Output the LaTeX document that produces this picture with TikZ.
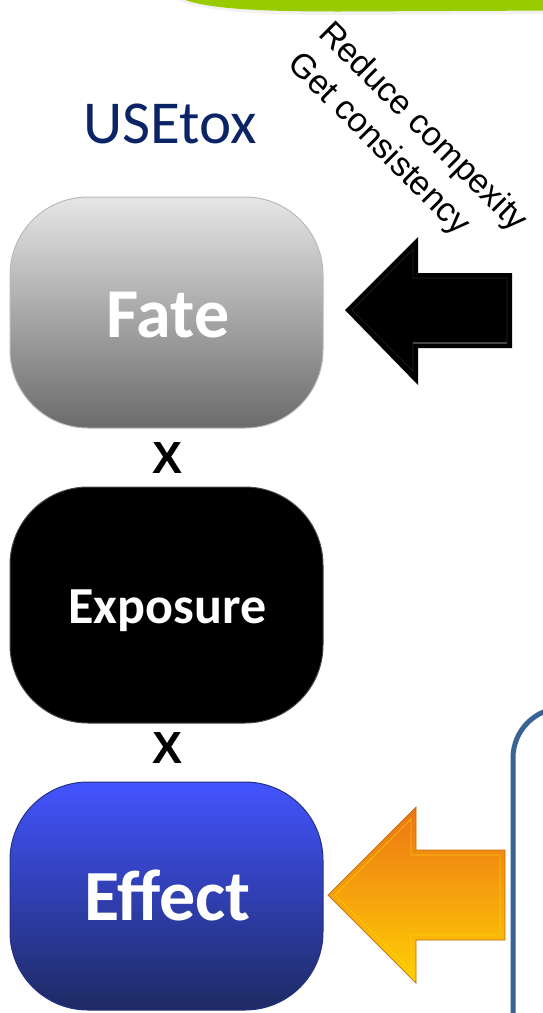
\documentclass[tikz,border=0pt]{standalone}
\usepackage{fontspec}
\newfontfamily\calibri{Carlito}
\newfontfamily\arial{Liberation Sans}
\definecolor{barGreen}{HTML}{99CC00}
\definecolor{titleBlue}{HTML}{0B2466}
\definecolor{frameBlue}{HTML}{3A6395}
\definecolor{fateTop}{HTML}{E6E6E6}
\definecolor{fateBot}{HTML}{6B6B6B}
\definecolor{effTop}{HTML}{4354FF}
\definecolor{effBot}{HTML}{1D2A62}
\definecolor{orTop}{HTML}{EC7515}
\definecolor{orMid}{HTML}{F9A01A}
\definecolor{orBot}{HTML}{FFCF05}
\definecolor{orEdge}{HTML}{C06C0C}
\begin{document}
\begin{tikzpicture}[x=1pt,y=-1pt,
  stage/.style={rounded corners=78pt, minimum width=313pt, line width=1pt, inner sep=0pt},
  stagelabel/.style={anchor=base, text=white},
  times/.style={anchor=base, font=\arial\bfseries\fontsize{45}{50}\selectfont},
  bevel/.style={line width=0.7pt, line join=miter}]
\useasboundingbox (0,0) rectangle (543,1013);
\clip (0,0) rectangle (543,1013);

% green banner along the top edge, with a faint shadow
\fill[gray!10] (172,-2) .. controls (200,12) and (260,15) .. (340,15) -- (560,14) -- (560,-2) -- cycle;
\fill[barGreen] (180,-2) .. controls (205,9) and (260,11.5) .. (340,11.5) -- (560,10.5) -- (560,-2) -- cycle;

% title
\node[anchor=base west, text=titleBlue, font=\calibri\fontsize{61}{70}\selectfont] (title) at (80,143) {USEtox};

% the three stages
\node[stage, minimum height=231pt, top color=fateTop, bottom color=fateBot, draw=gray!55] (fate) at (166.5,312.5) {};
\node[stage, minimum height=236pt, fill=black, draw=black!72] (exposure) at (166.5,605) {};
\node[stage, minimum height=228pt, top color=effTop, bottom color=effBot, draw=effBot!80!effTop] (effect) at (166.5,896) {};

\node[stagelabel, font=\calibri\bfseries\fontsize{70}{80}\selectfont] (fatetext) at (168,337) {Fate};
\node[stagelabel, font=\calibri\bfseries\fontsize{52}{60}\selectfont] (exptext) at (167.5,623) {Exposure};
\node[stagelabel, font=\calibri\bfseries\fontsize{72}{80}\selectfont] (efftext) at (167.5,920) {Effect};

\node[times] (x1) at (168,473) {X};
\node[times] (x2) at (168,763) {X};

% diagonal note
\node[rotate=-45, align=left, font=\arial\fontsize{34}{43}\selectfont] (note) at (407,143)
  {Reduce compexity\\Get consistency};

% black block arrow pointing at Fate
\fill[black] (345,310) -- (418,237) -- (418,273) -- (512,273) -- (512,348) -- (418,348) -- (418,385) -- cycle;
\draw[bevel, gray!28!black] (352,310) -- (413,249) -- (413,278) -- (507,278) -- (507,343) -- (413,343) -- (413,371) -- cycle;
\draw[bevel, gray!55!black, line width=1.1pt] (413,343) -- (507,343);

% orange block arrow pointing at Effect
\shade[top color=orTop, middle color=orMid, bottom color=orBot]
  (328,895) -- (416,807) -- (416,850) -- (505,850) -- (505,940) -- (416,940) -- (416,983) -- cycle;
\draw[orEdge, line width=0.7pt, line join=miter]
  (328,895) -- (416,807) -- (416,850) -- (505,850) -- (505,940) -- (416,940) -- (416,983) -- cycle;
\draw[bevel, yellow!50!orBot, opacity=0.6] (335,895) -- (411,819) -- (411,855) -- (500,855) -- (500,935) -- (411,935) -- (411,971) -- cycle;

% framed panel on the right
\draw[frameBlue, line width=5pt, rounded corners=50pt] (513,1030) -- (513,708) -- (620,708);
\end{tikzpicture}
\end{document}
